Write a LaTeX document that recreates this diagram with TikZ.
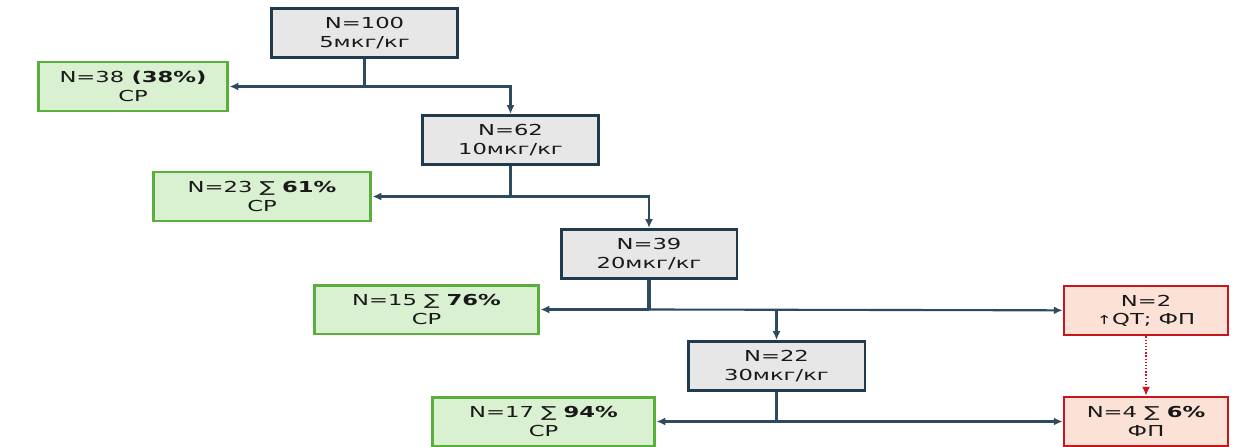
\documentclass[tikz,border=0pt]{standalone}
\usepackage{fontspec}
\setmainfont[FakeStretch=1.5]{DejaVu Sans}
\usetikzlibrary{arrows.meta}

\definecolor{doseline}{HTML}{1F3B4D}
\definecolor{dosefill}{HTML}{E7E7E7}
\definecolor{respline}{HTML}{5AAE3C}
\definecolor{respfill}{HTML}{D9F1D0}
\definecolor{advline}{HTML}{C8161D}
\definecolor{advfill}{HTML}{FBE1D6}
\definecolor{wire}{HTML}{2E4A5E}

\tikzset{
  box/.style={rectangle, align=center, inner sep=0pt, minimum height=0.98cm,
    font=\fontsize{8.6}{10.4}\selectfont, text=black!90},
  dose/.style={box, draw=doseline, fill=dosefill, line width=1.7pt, minimum width=3.54cm},
  resp/.style={box, draw=respline, fill=respfill, line width=1.7pt},
  adv/.style={box, draw=advline, fill=advfill, line width=1.6pt, minimum width=3.28cm},
  stub/.style={draw=wire, line width=1.9pt},
  link/.style={draw=wire, line width=1.2pt},
  tip/.style={-{Latex[length=5pt,width=4.5pt]}},
}

\begin{document}
\begin{tikzpicture}[x=0.02cm, y=-0.02cm]
  \useasboundingbox (0,0) rectangle (1240,446);

  % dose steps
  \node[dose, minimum width=3.74cm] (d5)  at (364.5, 33)  {N=100\\5мкг/кг};
  \node[dose] (d10) at (510.5, 140) {N=62\\10мкг/кг};
  \node[dose, minimum width=3.52cm] (d20) at (649, 254) {N=39\\20мкг/кг};
  \node[dose] (d30) at (776.5, 366) {N=22\\30мкг/кг};

  % responders
  \node[resp, minimum width=3.8cm]  (r38) at (133, 86.5)   {N=38 \textbf{(38\%)}\\СР};
  \node[resp, minimum width=4.36cm] (r23) at (262, 196.5)  {N=23 ∑ \textbf{61\%}\\СР};
  \node[resp, minimum width=4.5cm]  (r15) at (426.5, 309.5) {N=15 ∑ \textbf{76\%}\\СР};
  \node[resp, minimum width=4.46cm] (r17) at (543.5, 421.5) {N=17 ∑ \textbf{94\%}\\СР};

  % adverse events
  \node[adv] (a2) at (1146, 310.5) {N=2\\{\fontsize{7}{8}\selectfont↑}QT; ФП};
  \node[adv] (a4) at (1146, 421.5) {N=4 ∑ \textbf{6\%}\\ФП};

  % junctions
  \coordinate (j1) at (364.5, 86.5);
  \coordinate (j2) at (510.5, 196.5);
  \coordinate (j3) at (649, 309.5);
  \coordinate (j3b) at (776.5, 309.5);
  \coordinate (j4) at (776.5, 421.5);

  \draw[stub] (d5) -- (j1);
  \draw[link, tip] (j1) -- (r38);
  \draw[link, tip] (j1) -| (d10);

  \draw[stub] (d10) -- (j2);
  \draw[link, tip] (j2) -- (r23);
  \draw[link, tip] (j2) -| (d20);

  \draw[stub] (d20) -- (j3);
  \draw[link, tip] (j3) -- (r15);
  \draw[link, tip] (j3) -- (a2);
  \draw[stub, tip] (j3b) -- (d30);

  \draw[stub] (d30) -- (j4);
  \draw[link, tip] (j4) -- (r17);
  \draw[link, tip] (j4) -- (a4);

  \draw[draw=advline, densely dotted, line width=0.8pt, tip] (a2) -- (a4);
\end{tikzpicture}
\end{document}
